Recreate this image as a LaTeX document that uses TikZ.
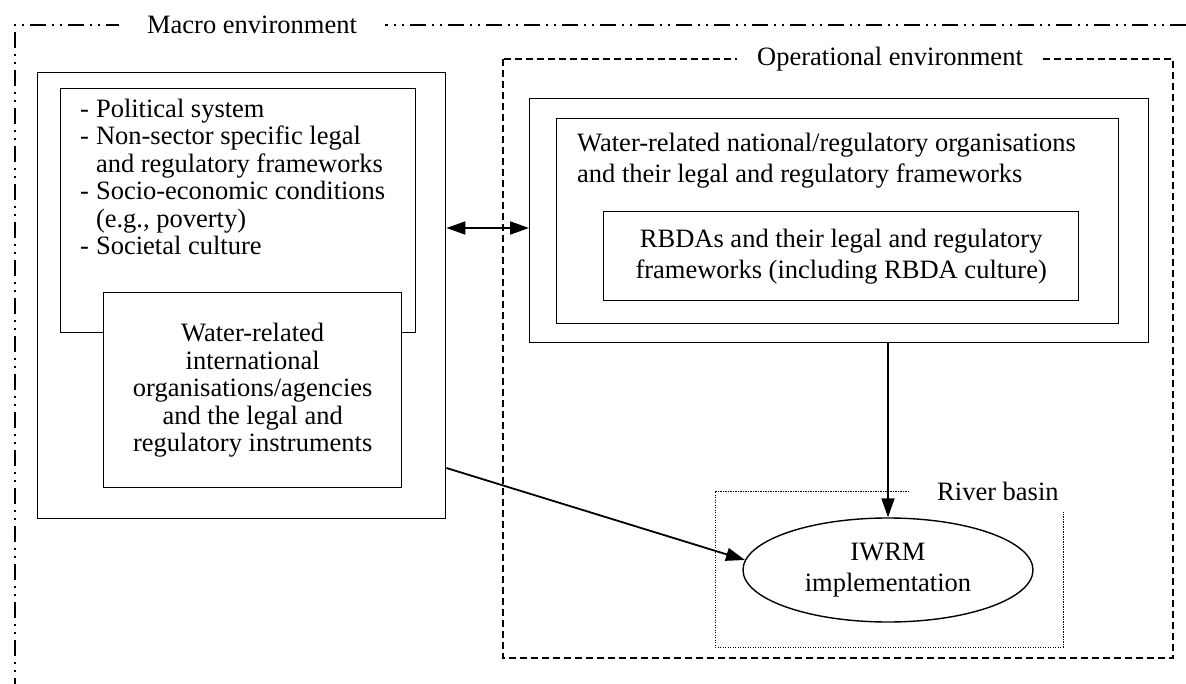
\documentclass[tikz,border=0pt]{standalone}
\usepackage{fontspec}
\setmainfont{Liberation Serif}
\usetikzlibrary{arrows.meta,shapes.geometric}
\begin{document}
\begin{tikzpicture}[x=1pt,y=-1pt,
  font=\fontsize{26.5}{31}\selectfont,
  tight/.style={font=\fontsize{26.5}{27.5}\selectfont},
  box/.style={draw,line width=1.4pt,fill=white,inner sep=0pt,anchor=north west},
  macroline/.style={line width=1.3pt,dash pattern=on 16pt off 6pt on 2pt off 6pt on 2pt off 6pt},
  opline/.style={line width=1.2pt,dash pattern=on 7pt off 4pt},
  basinline/.style={line width=1pt,dash pattern=on 1.2pt off 1.3pt},
  link/.style={line width=1.8pt,-{Triangle[length=19pt,width=13pt]}},
  twolink/.style={line width=1.8pt,{Triangle[length=19pt,width=13pt]}-{Triangle[length=19pt,width=13pt]}}]
\useasboundingbox (0,0) rectangle (1186,684);

% macro environment frame (runs off the right and bottom edges)
\draw[macroline] (1186,25) -- (15,25) -- (15,684);
\node[fill=white,inner xsep=28pt,inner ysep=4pt] (macro) at (252,25) {Macro environment};

% operational environment frame
\draw[opline] (503,59) rectangle (1173,658);
\node[fill=white,inner xsep=20pt,inner ysep=4pt] (oper) at (890,59) {Operational environment};

% river basin frame
\coordinate (rbA) at (909,491);
\coordinate (rbB) at (715,491);
\coordinate (rbC) at (715,647);
\coordinate (rbD) at (1063,647);
\coordinate (rbE) at (1063,512);
\draw[basinline] (rbA) -- (rbB) -- (rbC) -- (rbD) -- (rbE);
\node[anchor=west,inner sep=0pt] (basin) at (937,491) {River basin};

% macro-level boxes
\node[box,minimum width=408pt,minimum height=446pt] (leftouter) at (37,72) {};
\node[box,minimum width=355pt,minimum height=244pt] (leftinner) at (60,88) {};
\node[tight,anchor=north west,inner sep=0pt,align=left] (factors) at (80,98)
  {\begin{tabular}{@{}l@{\hspace{7pt}}l@{}}
   -& Political system\\
   -& Non-sector specific legal\\
    & and regulatory frameworks\\
   -& Socio-economic conditions\\
    & (e.g., poverty)\\
   -& Societal culture
   \end{tabular}};
\node[box,minimum width=298pt,minimum height=195pt] (intl) at (103,292) {};
\node[tight,align=center,inner sep=0pt] (intltext) at (intl.center)
  {Water-related\\international\\organisations/agencies\\and the legal and\\regulatory instruments};

% operational-level boxes
\node[box,minimum width=619pt,minimum height=244pt] (opouter) at (529,98) {};
\node[box,minimum width=562pt,minimum height=205pt] (national) at (556,118) {};
\node[anchor=west,align=left,inner sep=0pt] (nattext) at (577,161)
  {Water-related national/regulatory organisations\\and their legal and regulatory frameworks};
\node[box,minimum width=475pt,minimum height=89pt] (rbda) at (603,211) {};
\node[align=center,inner sep=0pt] (rbdatext) at (rbda.center)
  {RBDAs and their legal and regulatory\\frameworks (including RBDA culture)};

% implementation
\node[draw,ellipse,line width=1.4pt,fill=white,minimum width=290pt,minimum height=104pt,
  inner sep=0pt,align=center] (iwrm) at (888,570) {IWRM\\implementation};

% connectors
\coordinate (ya) at (0,228);
\coordinate (yb) at (0,468);
\draw[twolink] (leftouter.east |- ya) -- (opouter.west |- ya);
\draw[link] (opouter.south -| iwrm.north) -- (iwrm.north);
\draw[link] (leftouter.east |- yb) -- (iwrm.176);
\end{tikzpicture}
\end{document}
